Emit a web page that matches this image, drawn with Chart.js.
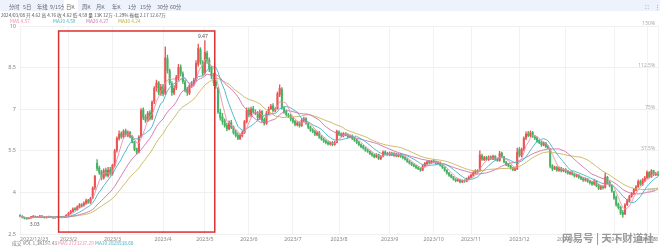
<!DOCTYPE html>
<html><head><meta charset="utf-8">
<script src="https://cdn.jsdelivr.net/npm/chart.js@4.4.1/dist/chart.umd.min.js"></script>
<style>
html,body{margin:0;padding:0;background:#fff;width:660px;height:247px;overflow:hidden;font-family:"Noto Sans CJK SC","Noto Sans",sans-serif;}
#wrap{position:relative;width:660px;height:247px;}
#c{position:absolute;left:0;top:0;}
.ov{position:absolute;white-space:nowrap;line-height:1;}
#tabs{position:absolute;left:0;top:0;width:660px;height:11px;background:#edf2fd;}
#tabs span{position:absolute;top:2.5px;font-size:5.3px;color:#666;}
#wm{position:absolute;left:562px;top:230px;font-size:10.5px;color:#8a8a8a;font-weight:bold;opacity:.85;text-shadow:0 0 2px #fff;}
</style></head>
<body><div id="wrap">
<canvas id="c" width="660" height="247"></canvas>
<div id="tabs">
<span style="left:9px">分时</span><span style="left:23px">5日</span><span style="left:37px">年线</span><span style="left:50px">9/15分</span>
<span style="left:64px;top:0;height:11px;width:14px;background:#fff"></span><span style="left:66px">日K</span><span style="left:82px">周K</span><span style="left:96px">月K</span><span style="left:112px">年K</span><span style="left:128px">1分</span><span style="left:140px">15分</span><span style="left:157px">30分</span><span style="left:170px">60分</span>
<span style="left:645px;color:#888">⛶</span><span style="left:655px;color:#888">⋮</span>
</div>
<div class="ov" style="left:1px;top:13px;font-size:4.6px;color:#555">2024/03/08 开 4.62 高 4.76 收 4.62 低 4.59 量 13K 12万 -1.29% 振幅 2.17 12.67万</div>
<div class="ov" style="left:10px;top:19px;font-size:4.8px;color:#f08db0">MA5 4.57</div>
<div class="ov" style="left:53px;top:19px;font-size:4.8px;color:#3fb3c4">MA10 4.59</div>
<div class="ov" style="left:86px;top:19px;font-size:4.8px;color:#d070a8">MA20 4.27</div>
<div class="ov" style="left:118px;top:19px;font-size:4.8px;color:#b8ae3a">MA30 4.24</div>
<div class="ov" style="left:12px;top:241px;font-size:4.8px;color:#777">成交 VOL 1,3K197.43 <span style="color:#f08db0">MA5 2723237.29</span> <span style="color:#3fb3c4">MA10 2828538.68</span></div>
<div id="wm">网易号 | 天下财道社</div>
</div>
<script>
// ---- data ----
const months = ['2022/12','2023/1','2023/2','2023/3','2023/4','2023/5','2023/6','2023/7','2023/8','2023/9','2023/10','2023/11','2023/12','2024/1','2024/2','2024/3'];
const tradingDaysPerMonth = [6,16,20,23,19,20,20,21,23,20,17,22,21,22,15,6];
const firstLabel = '2022/12/23';
const lastLabel = '2024/3/8';
const hiddenMonthLabels = ['2022/12','2023/1'];

const opens = [
3.16,3.14,3.10,3.07,3.05,3.08,
3.12,3.13,3.10,3.12,3.15,3.11,3.09,3.10,3.13,3.11,3.08,3.10,3.12,3.11,3.10,3.13,
3.18,3.25,3.31,3.42,3.38,3.47,3.56,3.52,3.61,3.72,3.63,3.80,4.18,5.05,4.88,4.74,4.52,4.80,4.60,4.82,
4.68,4.98,5.52,5.95,6.12,6.00,6.22,6.06,6.16,6.02,5.82,5.58,5.45,6.02,6.98,6.72,6.58,6.88,6.68,7.28,7.78,7.95,7.58,
7.82,7.58,8.82,8.38,7.92,7.58,7.78,8.12,8.52,8.28,7.98,7.72,7.58,7.86,7.92,8.05,8.62,9.15,8.68,
8.32,9.02,8.78,8.48,8.22,7.98,7.75,6.88,6.72,6.58,6.42,6.28,6.52,6.36,6.18,6.06,5.94,6.04,6.15,6.55,
6.98,6.78,7.02,6.88,6.86,6.68,6.92,6.62,6.48,6.86,7.02,7.12,6.94,7.02,7.52,7.72,7.02,6.92,6.78,6.76,
6.66,6.56,6.44,6.52,6.40,6.60,6.66,6.50,6.36,6.26,6.20,6.08,6.16,6.00,5.92,5.86,5.80,5.74,5.80,5.72,5.80,
6.18,6.10,6.04,6.12,6.08,6.00,6.04,5.96,5.88,5.80,5.72,5.66,5.60,5.52,5.48,5.40,5.35,5.28,5.36,5.22,5.30,5.46,5.40,
5.36,5.42,5.34,5.40,5.30,5.38,5.30,5.26,5.20,5.12,5.06,5.00,4.96,4.90,4.86,4.80,4.96,5.04,5.12,5.06,
5.14,5.10,5.04,5.08,4.98,4.90,4.80,4.70,4.62,4.56,4.48,4.42,4.46,4.38,4.43,4.40,4.48,
4.55,4.62,4.70,4.78,4.78,5.32,5.18,5.26,5.18,5.28,5.20,5.30,5.20,5.15,5.42,5.28,5.10,5.02,4.96,4.88,4.80,4.85,
5.55,5.32,5.56,5.96,6.12,6.04,6.16,6.00,5.96,5.86,5.80,5.70,5.78,5.66,5.55,4.96,4.84,4.90,4.80,4.88,4.78,
4.82,4.76,4.68,4.72,4.66,4.58,4.62,4.56,4.50,4.44,4.48,4.40,4.36,4.30,4.40,4.26,4.14,4.20,4.18,4.55,4.36,4.25,
4.02,3.82,3.58,3.46,3.28,3.22,3.56,3.70,3.86,3.96,4.08,4.20,4.40,4.28,4.44,
4.52,4.72,4.56,4.78,4.64,4.66];
const highs = [
3.20,3.16,3.11,3.09,3.10,3.14,
3.16,3.15,3.14,3.17,3.16,3.13,3.12,3.15,3.14,3.12,3.12,3.14,3.14,3.13,3.15,3.20,
3.28,3.35,3.44,3.45,3.52,3.60,3.60,3.66,3.76,3.75,3.82,4.20,4.62,5.18,4.95,4.80,4.85,4.88,4.90,4.90,
5.02,5.55,6.00,6.22,6.18,6.26,6.28,6.22,6.20,6.05,5.85,5.60,6.05,7.02,7.05,6.80,6.92,6.95,7.30,7.82,8.05,8.00,7.90,
7.90,9.25,8.95,8.45,8.00,7.85,8.22,8.62,8.60,8.35,8.05,7.80,7.92,8.00,8.12,8.75,9.35,9.22,8.75,
9.47,9.10,8.85,8.55,8.30,8.05,7.80,7.00,6.85,6.65,6.50,6.58,6.60,6.40,6.25,6.15,6.10,6.22,6.60,7.05,
7.05,7.08,7.10,6.98,6.92,6.98,6.95,6.68,6.92,7.08,7.18,7.20,7.06,7.62,7.88,7.78,7.10,6.98,6.85,6.82,
6.70,6.60,6.55,6.55,6.66,6.72,6.70,6.52,6.40,6.30,6.25,6.20,6.20,6.05,5.96,5.90,5.85,5.82,5.84,5.85,6.25,
6.22,6.15,6.16,6.16,6.12,6.08,6.08,5.98,5.92,5.84,5.75,5.70,5.63,5.56,5.50,5.44,5.38,5.40,5.38,5.34,5.50,5.50,5.45,
5.46,5.45,5.44,5.42,5.40,5.40,5.33,5.28,5.22,5.15,5.08,5.03,4.98,4.93,4.88,4.99,5.08,5.14,5.15,5.15,
5.18,5.14,5.12,5.10,5.00,4.92,4.82,4.72,4.65,4.58,4.50,4.50,4.48,4.45,4.46,4.52,4.60,
4.66,4.75,4.82,4.82,5.50,5.38,5.30,5.30,5.32,5.32,5.35,5.33,5.24,5.48,5.45,5.30,5.12,5.05,4.98,4.90,4.90,5.60,
5.62,5.60,6.00,6.18,6.20,6.22,6.20,6.05,6.00,5.90,5.84,5.82,5.80,5.70,5.58,5.00,4.95,4.94,4.92,4.90,4.86,
4.86,4.80,4.76,4.76,4.70,4.66,4.64,4.58,4.54,4.52,4.50,4.44,4.40,4.45,4.42,4.30,4.25,4.25,4.70,4.58,4.40,4.28,
4.05,3.88,3.62,3.50,3.35,3.60,3.76,3.90,4.00,4.15,4.25,4.45,4.45,4.50,4.58,
4.78,4.75,4.82,4.80,4.72,4.76];
const lows = [
3.12,3.08,3.04,3.03,3.04,3.07,
3.10,3.09,3.09,3.11,3.10,3.07,3.07,3.09,3.10,3.06,3.07,3.09,3.10,3.08,3.09,3.12,
3.16,3.22,3.29,3.35,3.36,3.45,3.48,3.50,3.58,3.60,3.60,3.78,4.10,4.78,4.65,4.45,4.48,4.58,4.55,4.62,
4.62,4.92,5.45,5.88,5.95,5.96,6.02,6.00,5.96,5.78,5.50,5.40,5.42,5.98,6.62,6.52,6.55,6.60,6.62,7.20,7.65,7.52,7.50,
7.48,7.52,8.30,7.88,7.50,7.52,7.70,8.05,8.20,7.92,7.62,7.50,7.52,7.78,7.85,8.00,8.55,8.62,8.22,
8.25,8.65,8.35,8.10,7.85,7.75,6.85,6.60,6.45,6.35,6.22,6.25,6.30,6.10,6.00,5.90,5.90,6.00,6.12,6.50,
6.72,6.72,6.85,6.80,6.62,6.62,6.55,6.42,6.45,6.80,6.98,6.90,6.90,7.00,7.45,7.00,6.85,6.75,6.70,6.58,
6.50,6.40,6.40,6.35,6.38,6.55,6.45,6.30,6.20,6.15,6.05,6.05,5.95,5.88,5.80,5.75,5.70,5.70,5.68,5.70,5.78,
6.05,6.00,6.00,6.04,5.96,5.96,5.90,5.84,5.76,5.68,5.60,5.56,5.48,5.44,5.36,5.30,5.24,5.25,5.18,5.18,5.28,5.36,5.32,
5.32,5.32,5.30,5.28,5.28,5.26,5.21,5.16,5.08,5.02,4.96,4.92,4.86,4.82,4.76,4.78,4.92,5.00,5.04,5.04,
5.06,5.02,5.02,4.95,4.86,4.76,4.66,4.58,4.52,4.44,4.38,4.40,4.34,4.35,4.36,4.38,4.45,
4.52,4.58,4.66,4.70,4.76,5.15,5.14,5.14,5.15,5.18,5.18,5.16,5.12,5.12,5.25,5.06,4.96,4.92,4.84,4.78,4.78,4.82,
5.28,5.28,5.50,5.90,6.00,6.00,5.98,5.90,5.80,5.76,5.66,5.68,5.60,5.56,4.88,4.78,4.82,4.76,4.76,4.74,4.74,
4.70,4.66,4.64,4.62,4.55,4.55,4.50,4.46,4.40,4.40,4.36,4.30,4.25,4.26,4.20,4.10,4.10,4.12,4.15,4.30,4.20,4.00,
3.75,3.50,3.40,3.20,3.10,3.20,3.52,3.65,3.82,3.92,4.05,4.18,4.25,4.25,4.40,
4.50,4.52,4.54,4.60,4.60,4.59];
const closes = [
3.14,3.10,3.06,3.05,3.08,3.12,
3.13,3.10,3.12,3.15,3.11,3.09,3.10,3.13,3.11,3.08,3.10,3.12,3.11,3.10,3.13,3.18,
3.25,3.32,3.40,3.38,3.48,3.55,3.52,3.62,3.70,3.64,3.78,4.16,4.58,4.86,4.72,4.55,4.78,4.62,4.80,4.68,
4.98,5.50,5.95,6.10,6.02,6.20,6.08,6.15,6.00,5.80,5.55,5.45,6.00,6.95,6.70,6.60,6.85,6.65,7.25,7.75,7.95,7.60,7.80,
7.55,8.85,8.40,7.95,7.60,7.75,8.15,8.50,8.30,8.00,7.70,7.60,7.85,7.90,8.05,8.65,9.20,8.70,8.30,
9.05,8.75,8.45,8.20,7.95,7.85,6.90,6.70,6.55,6.40,6.30,6.50,6.35,6.15,6.05,5.95,6.05,6.15,6.55,6.95,
6.80,7.00,6.90,6.85,6.70,6.90,6.60,6.50,6.85,7.00,7.10,6.95,7.00,7.55,7.75,7.05,6.90,6.80,6.75,6.65,
6.55,6.45,6.50,6.40,6.60,6.65,6.50,6.35,6.25,6.20,6.10,6.15,6.00,5.92,5.85,5.80,5.75,5.78,5.72,5.80,6.20,
6.10,6.05,6.12,6.08,6.00,6.05,5.95,5.88,5.80,5.72,5.65,5.60,5.52,5.48,5.40,5.35,5.28,5.35,5.22,5.30,5.45,5.40,5.38,
5.42,5.35,5.40,5.32,5.38,5.30,5.25,5.20,5.12,5.05,5.00,4.95,4.90,4.85,4.80,4.95,5.05,5.10,5.08,5.12,
5.10,5.05,5.08,4.98,4.90,4.80,4.70,4.62,4.55,4.48,4.42,4.45,4.38,4.42,4.40,4.48,4.55,
4.62,4.70,4.78,4.75,5.35,5.20,5.25,5.18,5.28,5.22,5.30,5.20,5.15,5.40,5.30,5.10,5.00,4.95,4.88,4.82,4.85,5.45,
5.35,5.55,5.95,6.10,6.05,6.15,6.02,5.95,5.85,5.80,5.72,5.78,5.65,5.62,4.95,4.85,4.90,4.80,4.88,4.78,4.82,
4.75,4.70,4.72,4.65,4.60,4.62,4.55,4.50,4.45,4.48,4.40,4.35,4.30,4.40,4.25,4.15,4.20,4.18,4.55,4.35,4.25,4.05,
3.80,3.55,3.45,3.25,3.20,3.55,3.70,3.85,3.95,4.10,4.20,4.38,4.30,4.45,4.52,
4.72,4.55,4.78,4.65,4.68,4.62];
const maPeriods = [5,10,20,30];
const maColors = ['#f08db0','#3fb3c4','#d070a8','#c8b45a'];
const yTicks = [2.5,4,5.5,7,8.5,10];
const pctLabels = ['-37.5%','0%','37.5%','75%','112.5%','150%'];

// ---- build categories ----
const labels = [], tickText = [];
months.forEach((m,mi)=>{
  for(let d=0; d<tradingDaysPerMonth[mi]; d++){
    labels.push(m+'#'+d);
    tickText.push(d===0 && !hiddenMonthLabels.includes(m) ? m : null);
  }
});
tickText[0] = firstLabel;
tickText[labels.length-1] = lastLabel;

function movingAvg(n){
  return closes.map((_,i)=>{
    const s = Math.max(0,i-n+1); let t=0;
    for(let k=s;k<=i;k++) t+=closes[k];
    return +(t/(i-s+1)).toFixed(3);
  });
}
const up = closes.map((c,i)=>c>=opens[i]);
const colorOf = i => up[i] ? '#eb5454' : '#47b262';

const highlight = {from: 17.5, to: 88.5, top: 9.82, bottom: 2.57};

const overlay = {
  id:'overlay',
  afterDatasetsDraw(chart){
    const {ctx, scales:{x,y}, chartArea:a} = chart;
    ctx.save();
    const step = x.getPixelForValue(1)-x.getPixelForValue(0);
    const x0 = x.getPixelForValue(0) + highlight.from*step, x1 = x.getPixelForValue(0)+highlight.to*step;
    ctx.strokeStyle='#d9312e'; ctx.lineWidth=1.5;
    ctx.strokeRect(x0, y.getPixelForValue(highlight.top), x1-x0, y.getPixelForValue(highlight.bottom)-y.getPixelForValue(highlight.top));
    ctx.font='5px "Noto Sans", sans-serif'; ctx.fillStyle='#555'; ctx.textAlign='center';
    let mi=0, li=0;
    highs.forEach((h,i)=>{ if(h>highs[mi]) mi=i; });
    lows.forEach((l,i)=>{ if(l<lows[li]) li=i; });
    ctx.fillText(highs[mi].toFixed(2), x.getPixelForValue(mi)-2, y.getPixelForValue(highs[mi])-3);
    ctx.textBaseline='top';
    ctx.fillText(lows[li].toFixed(2), x.getPixelForValue(li)+8, y.getPixelForValue(lows[li])+3);
    ctx.textAlign='right'; ctx.textBaseline='middle'; ctx.fillStyle='#aaa';
    yTicks.forEach((v,i)=>{ if(i>0) ctx.fillText(pctLabels[i], a.right-4, y.getPixelForValue(v)-2); });
    ctx.restore();
  }
};

const maDatasets = maPeriods.map((n,k)=>({
  type:'line', label:'MA'+n, data: movingAvg(n), borderColor: maColors[k], borderWidth:0.9,
  pointRadius:0, tension:0, order:0, fill:false
}));

new Chart(document.getElementById('c'), {
  type:'bar',
  data:{
    labels,
    datasets:[
      {label:'wick', data: lows.map((l,i)=>[l,highs[i]]), backgroundColor: closes.map((_,i)=>colorOf(i)), barThickness:0.7, grouped:false, order:2},
      {label:'body', data: opens.map((o,i)=>[o,closes[i]]), backgroundColor: closes.map((_,i)=>colorOf(i)), barThickness:1.4, grouped:false, minBarLength:0.8, order:1},
      ...maDatasets
    ]
  },
  options:{
    responsive:false, animation:false, devicePixelRatio:1,
    layout:{padding:{top:26,left:0,right:0,bottom:0}},
    plugins:{legend:{display:false}, tooltip:{enabled:false}},
    scales:{
      x:{
        offset:true,
        grid:{offset:false, color:'#f2f2f2', lineWidth:1, drawTicks:false},
        border:{display:false},
        ticks:{autoSkip:false, maxRotation:0, align:'inner', padding:2, color:'#888', font:{size:5.3, family:'"Noto Sans", sans-serif'},
          callback:(v,i)=>tickText[i]},
        afterFit:s=>{s.height=13;}
      },
      y:{
        min:2.5, max:10,
        afterBuildTicks:s=>{s.ticks = yTicks.map(v=>({value:v}));},
        grid:{color:'#f0f0f0', drawTicks:false},
        border:{display:false},
        ticks:{padding:3, color:'#888', font:{size:5.5, family:'"Noto Sans", sans-serif'}, callback:v=>String(v)},
        afterFit:s=>{s.width=19;}
      }
    }
  },
  plugins:[overlay]
});
</script>
</body></html>
